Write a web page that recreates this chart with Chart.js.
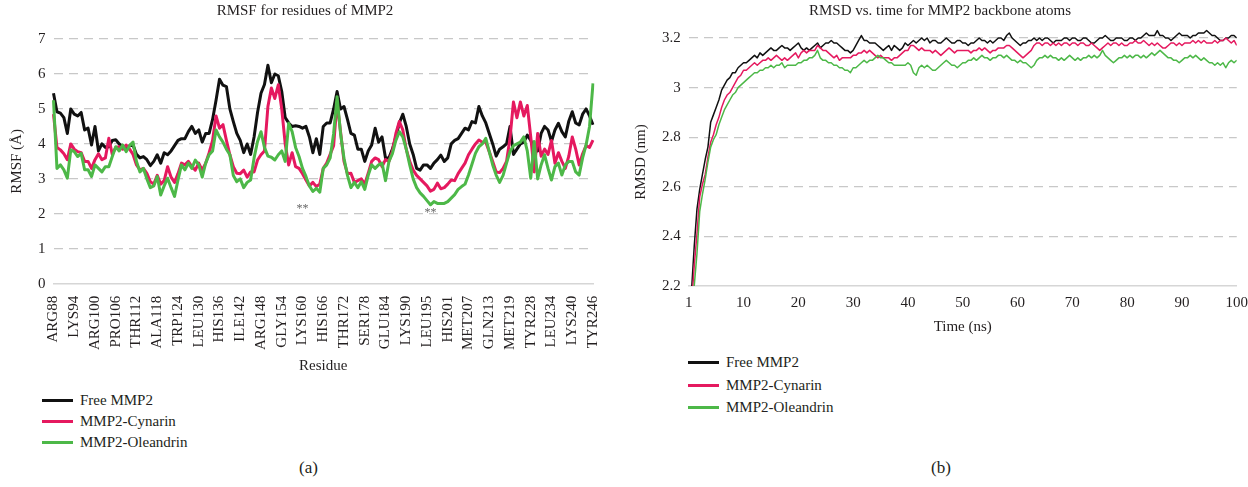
<!DOCTYPE html>
<html>
<head>
<meta charset="utf-8">
<script src="https://cdn.jsdelivr.net/npm/chart.js@4.4.1/dist/chart.umd.min.js"></script>
<style>
  html, body { margin: 0; padding: 0; background: #fff; }
  body { width: 1248px; height: 487px; position: relative; overflow: hidden;
         font-family: 'Liberation Serif', 'Times New Roman', serif; color: #231f20; }
  .box { position: absolute; }
  .legend { position: absolute; font-size: 15px; }
  .legend div { height: 21px; line-height: 21px; white-space: nowrap; }
  #legB div { height: 22.5px; line-height: 22.5px; }
  .legend span { display: inline-block; width: 31px; height: 3px; vertical-align: middle; margin-right: 7px; position: relative; top: -1px; }
  .panel { position: absolute; top: 458px; font-size: 17px; }
</style>
</head>
<body>
<div class="box" style="left:0;top:0"><canvas id="rmsf" width="615" height="375"></canvas></div>
<div class="box" style="left:625px;top:0"><canvas id="rmsd" width="623" height="336"></canvas></div>
<div class="legend" id="legA" style="left:42px;top:390px"></div>
<div class="legend" id="legB" style="left:688px;top:351px"></div>
<div class="panel" style="left:299px">(a)</div>
<div class="panel" style="left:931px">(b)</div>
<script>
// series names and colours
const seriesNames = ['Free MMP2', 'MMP2-Cynarin', 'MMP2-Oleandrin'];
const seriesColors = ['#111111', '#e5195f', '#4db848'];

// (a) RMSF, one value per residue, ARG88 .. TYR246
const residueTicks = ['ARG88', 'LYS94', 'ARG100', 'PRO106', 'THR112', 'ALA118', 'TRP124', 'LEU130', 'HIS136',
  'ILE142', 'ARG148', 'GLY154', 'LYS160', 'HIS166', 'THR172', 'SER178', 'GLU184', 'LYS190', 'LEU195',
  'HIS201', 'MET207', 'GLN213', 'MET219', 'TYR228', 'LEU234', 'LYS240', 'TYR246'];
const tickEvery = 6;

const freeRmsf = [
  5.45, 4.92, 4.88, 4.75, 4.30, 5.00, 4.85, 4.80, 4.90, 4.40,
  4.45, 3.97, 4.50, 3.80, 4.00, 3.90, 3.92, 4.10, 4.12, 4.00,
  3.90, 3.85, 3.95, 3.97, 3.70, 3.60, 3.64, 3.55, 3.38, 3.50,
  3.69, 3.45, 3.75, 3.69, 3.80, 3.95, 4.10, 4.15, 4.15, 4.35,
  4.50, 4.30, 4.40, 4.05, 4.30, 4.30, 4.70, 5.25, 5.85, 5.68,
  5.64, 5.00, 4.64, 4.30, 4.10, 3.75, 4.00, 3.70, 4.20, 4.90,
  5.45, 5.70, 6.25, 5.75, 6.00, 5.95, 5.50, 4.75, 4.60, 4.50,
  4.52, 4.50, 4.45, 4.50, 4.20, 3.75, 4.15, 3.70, 4.50, 4.60,
  4.60, 5.00, 5.50, 5.00, 5.07, 4.70, 4.30, 4.25, 3.85, 3.85,
  3.50, 3.80, 3.97, 4.45, 4.05, 4.20, 3.60, 3.60, 3.85, 4.20,
  4.60, 4.85, 4.50, 4.00, 3.70, 3.30, 3.25, 3.40, 3.40, 3.30,
  3.45, 3.55, 3.68, 3.50, 3.60, 4.00, 4.10, 4.15, 4.30, 4.45,
  4.40, 4.64, 4.60, 5.07, 4.80, 4.60, 4.30, 4.00, 3.65, 3.85,
  3.92, 4.00, 4.50, 3.70, 3.85, 4.00, 4.05, 4.25, 4.10, 3.85,
  3.80, 4.30, 4.50, 4.40, 4.07, 4.40, 4.59, 4.35, 4.20, 4.65,
  4.92, 4.60, 4.54, 4.85, 5.00, 4.80, 4.55
];
const cynarinRmsf = [
  4.85, 3.90, 3.83, 3.72, 3.55, 4.00, 3.85, 3.78, 3.75, 3.50,
  3.50, 3.30, 3.55, 3.72, 3.55, 3.60, 4.16, 3.70, 3.90, 3.92,
  3.85, 3.97, 3.85, 3.70, 3.40, 3.26, 3.30, 3.16, 2.92, 2.85,
  3.10, 2.85, 2.95, 3.35, 3.05, 2.90, 3.15, 3.45, 3.40, 3.50,
  3.35, 3.25, 3.45, 3.25, 3.45, 3.75, 4.10, 4.80, 4.45, 4.55,
  4.10, 3.69, 3.35, 3.16, 3.15, 3.25, 3.05, 3.20, 3.20, 3.54,
  3.69, 3.80, 5.07, 5.60, 5.30, 5.69, 5.00, 4.00, 3.40, 3.75,
  3.35, 3.30, 3.15, 2.97, 2.80, 2.90, 2.78, 2.85, 3.30, 3.45,
  3.70, 3.95, 5.20, 4.35, 3.50, 3.15, 3.16, 2.90, 2.95, 3.00,
  2.85, 3.16, 3.50, 3.60, 3.55, 3.35, 3.55, 3.50, 3.80, 4.30,
  4.64, 4.40, 3.85, 3.50, 3.25, 3.10, 3.00, 2.90, 2.80, 2.65,
  2.70, 2.88, 2.72, 2.75, 2.85, 2.97, 2.95, 3.15, 3.30, 3.45,
  3.69, 3.85, 4.00, 4.11, 4.05, 4.05, 3.78, 3.50, 3.20, 3.18,
  3.30, 3.50, 4.16, 5.20, 4.75, 5.20, 4.80, 5.10, 4.20, 3.20,
  4.30, 3.65, 3.85, 3.70, 4.10, 3.45, 3.75, 3.50, 3.30, 3.65,
  4.20, 3.85, 3.40, 3.72, 3.95, 3.90, 4.11
];
const oleandrinRmsf = [
  5.25, 3.30, 3.40, 3.26, 3.02, 3.83, 3.78, 3.64, 3.73, 3.26,
  3.26, 3.07, 3.40, 3.30, 3.20, 3.35, 3.35, 3.64, 3.92, 3.80,
  3.97, 3.78, 3.95, 4.05, 3.50, 3.20, 3.30, 3.00, 2.75, 2.80,
  3.07, 2.54, 2.80, 3.02, 2.75, 2.50, 2.97, 3.40, 3.26, 3.45,
  3.30, 3.54, 3.40, 3.05, 3.45, 3.69, 3.80, 4.40, 4.20, 4.05,
  3.85, 3.69, 3.10, 2.92, 3.00, 2.75, 2.90, 2.97, 3.60, 4.07,
  4.35, 3.90, 3.65, 3.62, 3.54, 3.69, 3.80, 3.50, 4.59, 4.35,
  3.90, 3.64, 3.30, 3.07, 2.80, 2.64, 2.73, 2.62, 3.30, 3.40,
  3.60, 4.30, 5.35, 4.30, 3.59, 3.10, 2.75, 2.90, 2.75, 2.92,
  2.70, 3.10, 3.40, 3.30, 3.40, 3.45, 2.95, 3.50, 3.72, 4.10,
  4.35, 4.20, 3.85, 3.40, 3.00, 2.75, 2.60, 2.50, 2.38, 2.26,
  2.35, 2.30, 2.30, 2.30, 2.35, 2.45, 2.55, 2.70, 2.78, 2.85,
  3.11, 3.42, 3.73, 3.92, 4.00, 4.16, 3.78, 3.40, 3.11, 2.90,
  3.10, 3.45, 3.78, 3.95, 4.00, 4.05, 4.20, 3.80, 3.02, 4.07,
  3.00, 3.40, 3.69, 3.30, 2.97, 3.35, 3.45, 3.11, 3.40, 3.50,
  3.50, 3.20, 3.11, 3.60, 3.97, 4.50, 5.73
];
// "**" marks (residue index, RMSF value)
const markIndex = [72, 109];
const markValue = [2.14, 2.03];

// (b) RMSD, sampled every 0.5 ns from 0.5 ns
const timeStart = 0.5;
const timeStep = 0.5;
const timeTicks = [0, 10, 20, 30, 40, 50, 60, 70, 80, 90, 100];
const timeTickLabels = ['1', '10', '20', '30', '40', '50', '60', '70', '80', '90', '100'];
const rmsdTicks = [2.2, 2.4, 2.6, 2.8, 3, 3.2];

const freeRmsd = [
  2.18, 2.36, 2.51, 2.59, 2.65, 2.71, 2.76, 2.86, 2.89, 2.92,
  2.95, 2.99, 3.01, 3.03, 3.04, 3.06, 3.06, 3.08, 3.09, 3.10,
  3.10, 3.11, 3.12, 3.13, 3.12, 3.14, 3.13, 3.14, 3.15, 3.16,
  3.15, 3.15, 3.16, 3.17, 3.16, 3.16, 3.15, 3.16, 3.17, 3.18,
  3.16, 3.15, 3.16, 3.15, 3.16, 3.17, 3.18, 3.16, 3.17, 3.18,
  3.18, 3.19, 3.18, 3.18, 3.17, 3.16, 3.15, 3.15, 3.14, 3.15,
  3.17, 3.19, 3.21, 3.19, 3.19, 3.18, 3.18, 3.18, 3.17, 3.16,
  3.15, 3.16, 3.17, 3.15, 3.17, 3.16, 3.15, 3.16, 3.18, 3.17,
  3.18, 3.19, 3.18, 3.19, 3.20, 3.19, 3.20, 3.18, 3.19, 3.19,
  3.18, 3.18, 3.19, 3.20, 3.19, 3.18, 3.18, 3.19, 3.19, 3.18,
  3.18, 3.17, 3.18, 3.18, 3.19, 3.20, 3.19, 3.19, 3.18, 3.19,
  3.18, 3.19, 3.20, 3.20, 3.19, 3.21, 3.22, 3.20, 3.19, 3.18,
  3.17, 3.18, 3.18, 3.19, 3.19, 3.20, 3.19, 3.20, 3.19, 3.20,
  3.20, 3.19, 3.18, 3.19, 3.19, 3.19, 3.20, 3.20, 3.19, 3.20,
  3.20, 3.19, 3.19, 3.20, 3.20, 3.19, 3.18, 3.18, 3.19, 3.20,
  3.20, 3.21, 3.20, 3.19, 3.19, 3.20, 3.20, 3.20, 3.19, 3.19,
  3.20, 3.20, 3.19, 3.20, 3.20, 3.21, 3.22, 3.21, 3.21, 3.21,
  3.23, 3.21, 3.21, 3.20, 3.20, 3.19, 3.20, 3.21, 3.22, 3.21,
  3.21, 3.21, 3.20, 3.21, 3.21, 3.22, 3.22, 3.22, 3.23, 3.22,
  3.21, 3.21, 3.20, 3.19, 3.19, 3.20, 3.20, 3.21, 3.21, 3.20
];
const cynarinRmsd = [
  2.12, 2.28, 2.41, 2.56, 2.61, 2.65, 2.72, 2.78, 2.81, 2.85,
  2.88, 2.92, 2.95, 2.97, 2.98, 3.00, 3.02, 3.04, 3.05, 3.07,
  3.07, 3.08, 3.09, 3.10, 3.09, 3.10, 3.11, 3.11, 3.12, 3.11,
  3.12, 3.13, 3.12, 3.11, 3.12, 3.11, 3.12, 3.13, 3.14, 3.12,
  3.14, 3.15, 3.14, 3.15, 3.15, 3.15, 3.17, 3.16, 3.15, 3.15,
  3.14, 3.13, 3.12, 3.13, 3.11, 3.12, 3.12, 3.12, 3.12, 3.13,
  3.13, 3.14, 3.14, 3.15, 3.14, 3.15, 3.14, 3.13, 3.12, 3.13,
  3.12, 3.12, 3.12, 3.11, 3.12, 3.12, 3.13, 3.14, 3.15, 3.15,
  3.17, 3.17, 3.16, 3.15, 3.16, 3.15, 3.15, 3.15, 3.14, 3.15,
  3.14, 3.13, 3.14, 3.15, 3.16, 3.15, 3.14, 3.15, 3.15, 3.15,
  3.15, 3.15, 3.14, 3.15, 3.15, 3.16, 3.15, 3.16, 3.15, 3.14,
  3.15, 3.15, 3.16, 3.16, 3.16, 3.17, 3.17, 3.16, 3.15, 3.14,
  3.13, 3.12, 3.13, 3.14, 3.15, 3.17, 3.18, 3.18, 3.17, 3.18,
  3.18, 3.17, 3.18, 3.17, 3.18, 3.17, 3.18, 3.18, 3.17, 3.18,
  3.18, 3.17, 3.18, 3.18, 3.17, 3.17, 3.18, 3.17, 3.16, 3.15,
  3.16, 3.17, 3.18, 3.17, 3.18, 3.18, 3.17, 3.18, 3.17, 3.17,
  3.18, 3.18, 3.19, 3.18, 3.18, 3.19, 3.18, 3.17, 3.18, 3.17,
  3.18, 3.17, 3.16, 3.16, 3.17, 3.18, 3.18, 3.17, 3.18, 3.17,
  3.18, 3.18, 3.18, 3.19, 3.18, 3.19, 3.18, 3.19, 3.18, 3.18,
  3.18, 3.19, 3.18, 3.19, 3.19, 3.20, 3.19, 3.18, 3.19, 3.17
];
const oleandrinRmsd = [
  2.08, 2.20, 2.33, 2.50, 2.57, 2.63, 2.70, 2.76, 2.79, 2.81,
  2.85, 2.88, 2.91, 2.93, 2.95, 2.97, 2.98, 3.00, 3.01, 3.02,
  3.03, 3.04, 3.05, 3.06, 3.06, 3.07, 3.07, 3.08, 3.08, 3.09,
  3.08, 3.09, 3.09, 3.10, 3.08, 3.09, 3.09, 3.09, 3.09, 3.10,
  3.10, 3.11, 3.11, 3.12, 3.12, 3.13, 3.15, 3.12, 3.11, 3.11,
  3.10, 3.10, 3.09, 3.09, 3.08, 3.08, 3.07, 3.07, 3.06, 3.08,
  3.08, 3.09, 3.10, 3.11, 3.10, 3.11, 3.11, 3.12, 3.13, 3.12,
  3.12, 3.11, 3.10, 3.10, 3.09, 3.09, 3.09, 3.09, 3.09, 3.10,
  3.09, 3.06, 3.05, 3.08, 3.09, 3.08, 3.09, 3.08, 3.07, 3.07,
  3.08, 3.09, 3.10, 3.11, 3.10, 3.09, 3.09, 3.08, 3.09, 3.10,
  3.10, 3.11, 3.11, 3.12, 3.11, 3.12, 3.13, 3.12, 3.12, 3.11,
  3.12, 3.12, 3.13, 3.13, 3.12, 3.13, 3.12, 3.11, 3.11, 3.10,
  3.11, 3.10, 3.10, 3.09, 3.08, 3.09, 3.11, 3.12, 3.12, 3.13,
  3.12, 3.13, 3.12, 3.12, 3.11, 3.12, 3.11, 3.12, 3.13, 3.12,
  3.11, 3.12, 3.11, 3.12, 3.12, 3.13, 3.12, 3.13, 3.12, 3.13,
  3.15, 3.13, 3.12, 3.11, 3.10, 3.11, 3.12, 3.12, 3.13, 3.12,
  3.13, 3.12, 3.13, 3.13, 3.12, 3.13, 3.12, 3.13, 3.14, 3.13,
  3.14, 3.15, 3.14, 3.13, 3.12, 3.12, 3.11, 3.11, 3.10, 3.11,
  3.12, 3.12, 3.13, 3.12, 3.13, 3.12, 3.11, 3.12, 3.11, 3.10,
  3.10, 3.09, 3.10, 3.09, 3.10, 3.08, 3.10, 3.11, 3.10, 3.11
];

const FONT = "'Liberation Serif', 'Times New Roman', serif";
const TEXT = '#231f20';
const GRID = '#c8c8c8';
Chart.defaults.font.family = FONT;
Chart.defaults.font.size = 15;
Chart.defaults.color = TEXT;

// legends are plain html rows under each chart
function buildLegend(id) {
  var el = document.getElementById(id);
  seriesNames.forEach(function(name, k) {
    var row = document.createElement('div');
    row.innerHTML = '<span style="background:' + seriesColors[k] + '"></span>' + name;
    el.appendChild(row);
  });
}
buildLegend('legA');
buildLegend('legB');

function lineSet(k, values, width) {
  return {
    label: seriesNames[k],
    data: values,
    borderColor: seriesColors[k],
    backgroundColor: seriesColors[k],
    borderWidth: width,
    pointRadius: 0,
    tension: 0,
    borderJoinStyle: 'round',
    order: 3 - k
  };
}

var starPlugin = {
  id: 'stars',
  afterDatasetsDraw: function(chart) {
    var ctx = chart.ctx, x = chart.scales.x, y = chart.scales.y;
    ctx.save();
    ctx.font = '12px ' + FONT;
    ctx.fillStyle = '#666';
    ctx.textAlign = 'center';
    ctx.textBaseline = 'middle';
    markIndex.forEach(function(idx, k) {
      ctx.fillText('**', x.getPixelForValue(idx), y.getPixelForValue(markValue[k]));
    });
    ctx.restore();
  }
};

var residueIndex = freeRmsf.map(function(_, i) { return i; });

new Chart(document.getElementById('rmsf'), {
  type: 'line',
  data: {
    labels: residueIndex,
    datasets: [lineSet(0, freeRmsf, 3), lineSet(1, cynarinRmsf, 3), lineSet(2, oleandrinRmsf, 3)]
  },
  options: {
    responsive: false,
    animation: false,
    layout: { padding: { left: 8, right: 13, top: 0, bottom: 0 } },
    plugins: {
      legend: { display: false },
      tooltip: { enabled: false },
      title: {
        display: true,
        text: 'RMSF for residues of MMP2',
        font: { size: 15, weight: 'normal' },
        color: TEXT,
        padding: { top: 2, bottom: 19 }
      }
    },
    scales: {
      x: {
        type: 'category',
        grid: { display: false },
        border: { display: true, color: '#d6d6d6', width: 1.5 },
        afterBuildTicks: function(scale) {
          scale.ticks = scale.ticks.filter(function(t) { return t.value % tickEvery === 0; });
        },
        ticks: {
          autoSkip: false,
          minRotation: 90,
          maxRotation: 90,
          padding: 4,
          color: TEXT,
          callback: function(value) { return residueTicks[value / tickEvery]; }
        },
        title: { display: true, text: 'Residue', color: TEXT, padding: { top: 3, bottom: 0 } }
      },
      y: {
        min: 0,
        max: 7,
        ticks: { stepSize: 1, padding: 8, color: TEXT },
        grid: {
          drawTicks: false,
          lineWidth: 1.3,
          color: function(c) { return c.tick && c.tick.value === 0 ? 'rgba(0,0,0,0)' : GRID; }
        },
        border: { display: false, dash: [9, 6] },
        title: { display: true, text: 'RMSF (Å)', color: TEXT, padding: { top: 0, bottom: 4 } }
      }
    }
  },
  plugins: [starPlugin]
});

var times = freeRmsd.map(function(_, k) { return timeStart + k * timeStep; });
var clipSides = { left: 0, top: false, right: 0, bottom: 0 };
var rmsdSets = [lineSet(0, freeRmsd, 1.5), lineSet(1, cynarinRmsd, 1.5), lineSet(2, oleandrinRmsd, 1.5)];
rmsdSets.forEach(function(d) { d.clip = clipSides; });

new Chart(document.getElementById('rmsd'), {
  type: 'line',
  data: { labels: times, datasets: rmsdSets },
  options: {
    responsive: false,
    animation: false,
    layout: { padding: { left: 7, right: 0, top: 0, bottom: 0 } },
    plugins: {
      legend: { display: false },
      tooltip: { enabled: false },
      title: {
        display: true,
        text: 'RMSD vs. time for MMP2 backbone atoms',
        font: { size: 15, weight: 'normal' },
        color: TEXT,
        padding: { top: 2, bottom: 18 }
      }
    },
    scales: {
      x: {
        type: 'linear',
        min: 0,
        max: 100,
        grid: { display: false },
        border: { display: true, color: '#d6d6d6', width: 1.5 },
        afterBuildTicks: function(scale) {
          scale.ticks = timeTicks.map(function(v) { return { value: v }; });
        },
        ticks: {
          padding: 0,
          color: TEXT,
          maxRotation: 0,
          callback: function(v, i) { return timeTickLabels[i]; }
        },
        title: { display: true, text: 'Time (ns)', color: TEXT, padding: { top: 6, bottom: 0 } }
      },
      y: {
        min: 2.2,
        max: 3.2,
        afterBuildTicks: function(scale) {
          scale.ticks = rmsdTicks.map(function(v) { return { value: v }; });
        },
        ticks: {
          padding: 8,
          color: TEXT,
          callback: function(v, i) { return String(rmsdTicks[i]); }
        },
        grid: {
          drawTicks: false,
          lineWidth: 1.3,
          color: function(c) { return c.tick && c.tick.value === 2.2 ? 'rgba(0,0,0,0)' : GRID; }
        },
        border: { display: false, dash: [9, 6] },
        title: { display: true, text: 'RMSD (nm)', color: TEXT, padding: { top: 0, bottom: 4 } }
      }
    }
  }
});
</script>
</body>
</html>
